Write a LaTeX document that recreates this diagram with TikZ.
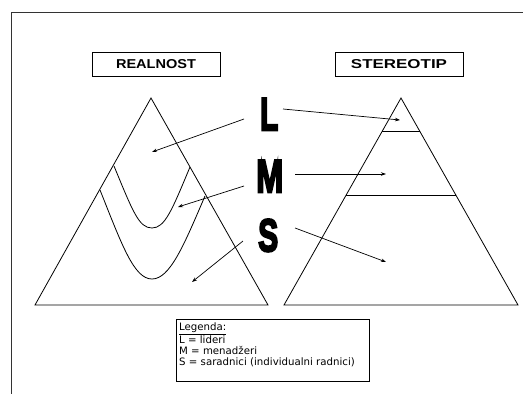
\documentclass[tikz,border=0pt]{standalone}
\usepackage{fontspec}
\setmainfont{Liberation Sans}
\newfontfamily\legfont{DejaVu Sans}
\newfontfamily\bigfont[FakeBold=5]{Liberation Sans}
\usetikzlibrary{arrows.meta,calc}
\begin{document}
\begin{tikzpicture}[x=1pt,y=-1pt,
  tri/.style={draw, line width=0.8pt},
  sep/.style={draw, line width=0.8pt},
  curve/.style={draw, line width=0.8pt},
  titlebox/.style={draw, line width=0.9pt, minimum width=128pt, minimum height=24pt, inner sep=0pt},
  letter/.style={inner sep=0pt, anchor=north west},
  arr/.style={-{Stealth[length=5pt,width=3.5pt]}, line width=0.7pt},
  legbox/.style={draw, line width=1pt, anchor=north west, minimum width=193pt, minimum height=62pt, inner sep=0pt},
  legtext/.style={anchor=north west, align=left, inner sep=0pt, font=\legfont\fontsize{10.2}{10.8}\selectfont}]
\useasboundingbox (0,0) rectangle (523,394);
% frame
\draw[line width=1pt, black!80] (11,394) -- (11,12) -- (523,12);
% titles
\node[titlebox] (real) at (156,64) {\resizebox{80pt}{9pt}{\bfseries REALNOST}};
\node[titlebox] (stereo) at (399,64) {\resizebox{96pt}{9pt}{\bfseries STEREOTIP}};
% left triangle
\coordinate (A1) at (151,98);
\coordinate (B1) at (268,305);
\coordinate (C1) at (35,305);
\draw[tri] (A1) -- (B1) -- (C1) -- cycle;
\draw[curve] (114,166) .. controls (133,212) and (139,228) .. (152,228) .. controls (165,228) and (172,210) .. (190,167);
\draw[curve] (100,190) .. controls (122,245) and (134,279) .. (152,279) .. controls (170,279) and (184,245) .. (205,196);
% right triangle
\coordinate (A2) at (401,98);
\coordinate (B2) at (518,305);
\coordinate (C2) at (284,305);
\draw[tri] (A2) -- (B2) -- (C2) -- cycle;
\draw[sep] ($(A2)!0.159!(C2)$) -- ($(A2)!0.159!(B2)$);
\draw[sep] ($(A2)!0.469!(C2)$) -- ($(A2)!0.469!(B2)$);
% letters
\node[letter] (L) at (260,98) {\resizebox{18pt}{32pt}{\bigfont\bfseries L}};
\node[letter] (M) at (256,160) {\resizebox{27pt}{32pt}{\bigfont\bfseries M}};
\node[letter] (S) at (258,219) {\resizebox{20pt}{32pt}{\bigfont\bfseries S}};
% arrow ends
\coordinate (Lla) at (244,119); \coordinate (Llb) at (152,152);
\coordinate (Mla) at (244,186); \coordinate (Mlb) at (178,207);
\coordinate (Sla) at (243,241); \coordinate (Slb) at (192,282);
\coordinate (Lra) at (283,109); \coordinate (Lrb) at (400,120);
\coordinate (Mra) at (295,174); \coordinate (Mrb) at (386,174);
\coordinate (Sra) at (295,228); \coordinate (Srb) at (386,262);
\draw[arr] (Lla) -- (Llb);
\draw[arr] (Mla) -- (Mlb);
\draw[arr] (Sla) -- (Slb);
\draw[arr] (Lra) -- (Lrb);
\draw[arr] (Mra) -- (Mrb);
\draw[arr] (Sra) -- (Srb);
% legend
\node[legbox] (leg) at (176,319) {};
\node[legtext] (legt) at (179,323) {\underline{Legenda:}\\L = lideri\\M = menadžeri\\S = saradnici (individualni radnici)};
\end{tikzpicture}
\end{document}
